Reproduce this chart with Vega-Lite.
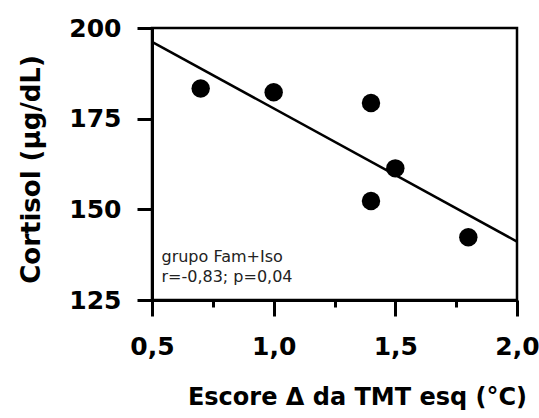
{
  "$schema": "https://vega.github.io/schema/vega-lite/v6.json",
  "width": 365,
  "height": 272,
  "autosize": "none",
  "padding": {"left": 152, "top": 28, "right": 22, "bottom": 118},
  "background": "white",
  "config": {
    "view": {"stroke": "black", "strokeWidth": 2.5},
    "axis": {
      "domainColor": "black", "domainWidth": 3,
      "tickColor": "black", "tickWidth": 3, "ticks": true,
      "grid": false, "labelFlush": false, "labelOverlap": false,
      "labelFont": "DejaVu Sans", "labelFontWeight": "bold", "labelFontSize": 25, "labelColor": "black",
      "titleFont": "DejaVu Sans", "titleFontWeight": "bold", "titleColor": "black"
    }
  },
  "datasets": {
    "points": [
      {"x": 0.7, "y": 183.3},
      {"x": 1.0, "y": 182.3},
      {"x": 1.4, "y": 179.3},
      {"x": 1.5, "y": 161.3},
      {"x": 1.4, "y": 152.3},
      {"x": 1.8, "y": 142.3}
    ],
    "fit": [{"x": 0.5, "y": 196.2}, {"x": 2.0, "y": 141.1}],
    "notes": [
      {"x": 0.539, "y": 135.5, "label": "grupo Fam+Iso"},
      {"x": 0.539, "y": 130.1, "label": "r=-0,83; p=0,04"}
    ]
  },
  "layer": [
    {
      "data": {"name": "fit"},
      "mark": {"type": "line", "color": "black", "strokeWidth": 2.5},
      "encoding": {
        "x": {"field": "x", "type": "quantitative", "scale": {"domain": [0.5, 2], "nice": false, "zero": false},
          "axis": {"values": [0.5, 0.75, 1, 1.25, 1.5, 1.75, 2], "tickCount": 20, "ticks": true,
            "tickSize": {"condition": {"test": "abs(datum.value * 2 - round(datum.value * 2)) > 0.01", "value": 7}, "value": 16},
            "labelPadding": 18,
            "labelExpr": "abs(datum.value * 2 - round(datum.value * 2)) > 0.01 ? '' : replace(format(datum.value, '.1f'), '.', ',')",
            "title": "Escore Δ da TMT esq (°C)", "titleFontSize": 24, "titlePadding": 26, "titleX": 205}},
        "y": {"field": "y", "type": "quantitative", "scale": {"domain": [125, 200], "nice": false, "zero": false},
          "axis": {"values": [125, 150, 175, 200], "tickCount": 20, "tickSize": 15, "labelPadding": 16,
            "title": "Cortisol (µg/dL)", "titleFontSize": 26, "titlePadding": 24, "titleY": 141}}
      }
    },
    {
      "data": {"name": "points"},
      "mark": {"type": "circle", "color": "black", "size": 340, "opacity": 1},
      "encoding": {
        "x": {"field": "x", "type": "quantitative"},
        "y": {"field": "y", "type": "quantitative"}
      }
    },
    {
      "data": {"name": "notes"},
      "mark": {"type": "text", "align": "left", "baseline": "alphabetic", "font": "DejaVu Sans", "fontSize": 16, "color": "#222222"},
      "encoding": {
        "x": {"field": "x", "type": "quantitative"},
        "y": {"field": "y", "type": "quantitative"},
        "text": {"field": "label"}
      }
    }
  ]
}
